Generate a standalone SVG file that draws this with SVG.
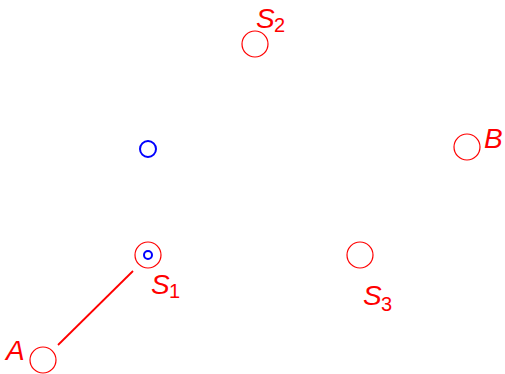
<svg xmlns="http://www.w3.org/2000/svg" width="505" height="374" viewBox="0 0 505 374">
<style>
.pt{fill:none;stroke:#ff0000;stroke-width:1.2}
.bl{fill:none;stroke:#0000ff;stroke-width:2}
.lb{font-family:"Liberation Sans",Arial,sans-serif;font-style:italic;font-size:28px;fill:#ff0000}
.sb{font-size:20px;font-style:normal}
</style>
<rect width="505" height="374" fill="#ffffff"/>
<g id="connectors">
<line x1="58" y1="345" x2="133" y2="271" stroke="#ff0000" stroke-width="1.8"/>
</g>
<g id="S2"><circle class="pt" cx="255" cy="44" r="13"/><text class="lb" x="256" y="28">S<tspan class="sb" x="274" y="32">2</tspan></text></g>
<g id="P"><circle class="bl" cx="148" cy="149" r="8"/></g>
<g id="S1"><circle class="pt" cx="148" cy="255" r="13"/><circle class="bl" cx="148" cy="255" r="4"/><text class="lb" x="151" y="294">S<tspan class="sb" x="169" y="298">1</tspan></text></g>
<g id="A"><circle class="pt" cx="43" cy="360" r="13"/><text class="lb" x="6" y="360">A</text></g>
<g id="S3"><circle class="pt" cx="360" cy="255" r="13"/><text class="lb" x="363" y="305">S<tspan class="sb" x="381" y="311">3</tspan></text></g>
<g id="B"><circle class="pt" cx="467" cy="147" r="13"/><text class="lb" x="484" y="148">B</text></g>
</svg>
